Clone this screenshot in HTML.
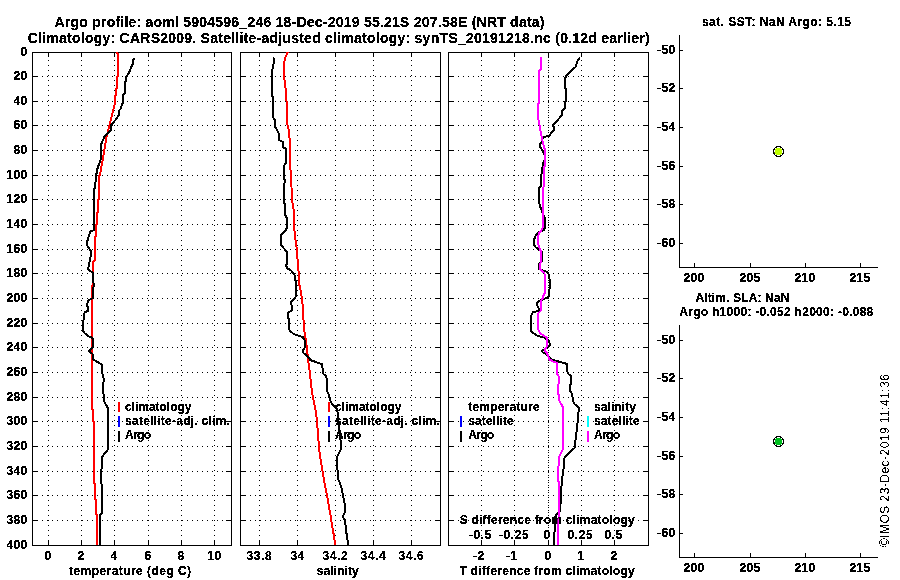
<!DOCTYPE html>
<html><head><meta charset="utf-8"><title>Argo profile</title>
<style>
html,body{margin:0;padding:0;background:#fff;}
body{width:900px;height:580px;overflow:hidden;}
svg{display:block;}
text{font-family:"Liberation Sans",sans-serif;font-weight:bold;font-size:12px;fill:#000;}
.t14{font-size:14px;}
.reg{font-weight:normal;}
.ax{stroke:#000;stroke-width:1;fill:none;shape-rendering:crispEdges;}
.gr{stroke:#000;stroke-width:1;fill:none;stroke-dasharray:1 4;shape-rendering:crispEdges;}
.cv{fill:none;stroke-width:2;shape-rendering:crispEdges;stroke-linejoin:round;}
</style></head><body>
<svg width="900" height="580" viewBox="0 0 900 580">
<rect width="900" height="580" fill="#fff"/>
<defs><filter id="th" x="0" y="0" width="900" height="580" filterUnits="userSpaceOnUse" color-interpolation-filters="sRGB"><feComponentTransfer><feFuncA type="discrete" tableValues="0 1 1"/></feComponentTransfer></filter><filter id="th2" x="0" y="0" width="900" height="580" filterUnits="userSpaceOnUse" color-interpolation-filters="sRGB"><feComponentTransfer><feFuncA type="discrete" tableValues="0 0 1 1"/></feComponentTransfer></filter></defs>
<g filter="url(#th)">
<text class="t14" x="54.5" y="26.5" textLength="490" lengthAdjust="spacing">Argo profile: aoml 5904596_246 18-Dec-2019 55.21S 207.58E (NRT data)</text>
<text class="t14" x="27.7" y="42.5" textLength="622" lengthAdjust="spacing">Climatology: CARS2009. Satellite-adjusted climatology: synTS_20191218.nc (0.12d earlier)</text>
<line class="gr" stroke-dashoffset="2" x1="48.5" y1="52" x2="48.5" y2="545"/>
<line class="gr" stroke-dashoffset="2" x1="81.5" y1="52" x2="81.5" y2="545"/>
<line class="gr" stroke-dashoffset="2" x1="114.5" y1="52" x2="114.5" y2="545"/>
<line class="gr" stroke-dashoffset="2" x1="148.5" y1="52" x2="148.5" y2="545"/>
<line class="gr" stroke-dashoffset="2" x1="181.5" y1="52" x2="181.5" y2="545"/>
<line class="gr" stroke-dashoffset="2" x1="214.5" y1="52" x2="214.5" y2="545"/>
<line class="gr" x1="32" y1="76.5" x2="231" y2="76.5"/>
<line class="gr" x1="32" y1="101.5" x2="231" y2="101.5"/>
<line class="gr" x1="32" y1="125.5" x2="231" y2="125.5"/>
<line class="gr" x1="32" y1="150.5" x2="231" y2="150.5"/>
<line class="gr" x1="32" y1="175.5" x2="231" y2="175.5"/>
<line class="gr" x1="32" y1="199.5" x2="231" y2="199.5"/>
<line class="gr" x1="32" y1="224.5" x2="231" y2="224.5"/>
<line class="gr" x1="32" y1="249.5" x2="231" y2="249.5"/>
<line class="gr" x1="32" y1="273.5" x2="231" y2="273.5"/>
<line class="gr" x1="32" y1="298.5" x2="231" y2="298.5"/>
<line class="gr" x1="32" y1="323.5" x2="231" y2="323.5"/>
<line class="gr" x1="32" y1="347.5" x2="231" y2="347.5"/>
<line class="gr" x1="32" y1="372.5" x2="231" y2="372.5"/>
<line class="gr" x1="32" y1="397.5" x2="231" y2="397.5"/>
<line class="gr" x1="32" y1="421.5" x2="231" y2="421.5"/>
<line class="gr" x1="32" y1="446.5" x2="231" y2="446.5"/>
<line class="gr" x1="32" y1="471.5" x2="231" y2="471.5"/>
<line class="gr" x1="32" y1="495.5" x2="231" y2="495.5"/>
<line class="gr" x1="32" y1="520.5" x2="231" y2="520.5"/>
<rect class="ax" x="32.5" y="52.5" width="199" height="493"/>
<line class="ax" x1="48.5" y1="545" x2="48.5" y2="540"/><line class="ax" x1="48.5" y1="52" x2="48.5" y2="57"/>
<line class="ax" x1="81.5" y1="545" x2="81.5" y2="540"/><line class="ax" x1="81.5" y1="52" x2="81.5" y2="57"/>
<line class="ax" x1="114.5" y1="545" x2="114.5" y2="540"/><line class="ax" x1="114.5" y1="52" x2="114.5" y2="57"/>
<line class="ax" x1="148.5" y1="545" x2="148.5" y2="540"/><line class="ax" x1="148.5" y1="52" x2="148.5" y2="57"/>
<line class="ax" x1="181.5" y1="545" x2="181.5" y2="540"/><line class="ax" x1="181.5" y1="52" x2="181.5" y2="57"/>
<line class="ax" x1="214.5" y1="545" x2="214.5" y2="540"/><line class="ax" x1="214.5" y1="52" x2="214.5" y2="57"/>
<line class="ax" x1="32" y1="76.5" x2="37" y2="76.5"/><line class="ax" x1="231" y1="76.5" x2="226" y2="76.5"/>
<line class="ax" x1="32" y1="101.5" x2="37" y2="101.5"/><line class="ax" x1="231" y1="101.5" x2="226" y2="101.5"/>
<line class="ax" x1="32" y1="125.5" x2="37" y2="125.5"/><line class="ax" x1="231" y1="125.5" x2="226" y2="125.5"/>
<line class="ax" x1="32" y1="150.5" x2="37" y2="150.5"/><line class="ax" x1="231" y1="150.5" x2="226" y2="150.5"/>
<line class="ax" x1="32" y1="175.5" x2="37" y2="175.5"/><line class="ax" x1="231" y1="175.5" x2="226" y2="175.5"/>
<line class="ax" x1="32" y1="199.5" x2="37" y2="199.5"/><line class="ax" x1="231" y1="199.5" x2="226" y2="199.5"/>
<line class="ax" x1="32" y1="224.5" x2="37" y2="224.5"/><line class="ax" x1="231" y1="224.5" x2="226" y2="224.5"/>
<line class="ax" x1="32" y1="249.5" x2="37" y2="249.5"/><line class="ax" x1="231" y1="249.5" x2="226" y2="249.5"/>
<line class="ax" x1="32" y1="273.5" x2="37" y2="273.5"/><line class="ax" x1="231" y1="273.5" x2="226" y2="273.5"/>
<line class="ax" x1="32" y1="298.5" x2="37" y2="298.5"/><line class="ax" x1="231" y1="298.5" x2="226" y2="298.5"/>
<line class="ax" x1="32" y1="323.5" x2="37" y2="323.5"/><line class="ax" x1="231" y1="323.5" x2="226" y2="323.5"/>
<line class="ax" x1="32" y1="347.5" x2="37" y2="347.5"/><line class="ax" x1="231" y1="347.5" x2="226" y2="347.5"/>
<line class="ax" x1="32" y1="372.5" x2="37" y2="372.5"/><line class="ax" x1="231" y1="372.5" x2="226" y2="372.5"/>
<line class="ax" x1="32" y1="397.5" x2="37" y2="397.5"/><line class="ax" x1="231" y1="397.5" x2="226" y2="397.5"/>
<line class="ax" x1="32" y1="421.5" x2="37" y2="421.5"/><line class="ax" x1="231" y1="421.5" x2="226" y2="421.5"/>
<line class="ax" x1="32" y1="446.5" x2="37" y2="446.5"/><line class="ax" x1="231" y1="446.5" x2="226" y2="446.5"/>
<line class="ax" x1="32" y1="471.5" x2="37" y2="471.5"/><line class="ax" x1="231" y1="471.5" x2="226" y2="471.5"/>
<line class="ax" x1="32" y1="495.5" x2="37" y2="495.5"/><line class="ax" x1="231" y1="495.5" x2="226" y2="495.5"/>
<line class="ax" x1="32" y1="520.5" x2="37" y2="520.5"/><line class="ax" x1="231" y1="520.5" x2="226" y2="520.5"/>
<text x="44.6" y="560" letter-spacing="0.33">0</text>
<text x="77.6" y="560" letter-spacing="0.33">2</text>
<text x="110.6" y="560" letter-spacing="0.33">4</text>
<text x="144.6" y="560" letter-spacing="0.33">6</text>
<text x="177.6" y="560" letter-spacing="0.33">8</text>
<text x="207.6" y="560" letter-spacing="0.33">10</text>
<text x="20.6" y="56" letter-spacing="0.33">0</text>
<text x="13.6" y="80" letter-spacing="0.33">20</text>
<text x="13.6" y="105" letter-spacing="0.33">40</text>
<text x="13.6" y="129" letter-spacing="0.33">60</text>
<text x="13.6" y="154" letter-spacing="0.33">80</text>
<text x="6.6" y="179" letter-spacing="0.33">100</text>
<text x="6.6" y="203" letter-spacing="0.33">120</text>
<text x="6.6" y="228" letter-spacing="0.33">140</text>
<text x="6.6" y="253" letter-spacing="0.33">160</text>
<text x="6.6" y="277" letter-spacing="0.33">180</text>
<text x="6.6" y="302" letter-spacing="0.33">200</text>
<text x="6.6" y="327" letter-spacing="0.33">220</text>
<text x="6.6" y="351" letter-spacing="0.33">240</text>
<text x="6.6" y="376" letter-spacing="0.33">260</text>
<text x="6.6" y="401" letter-spacing="0.33">280</text>
<text x="6.6" y="425" letter-spacing="0.33">300</text>
<text x="6.6" y="450" letter-spacing="0.33">320</text>
<text x="6.6" y="475" letter-spacing="0.33">340</text>
<text x="6.6" y="499" letter-spacing="0.33">360</text>
<text x="6.6" y="524" letter-spacing="0.33">380</text>
<text x="6.6" y="549" letter-spacing="0.33">400</text>
<polyline class="cv" stroke="#f00" points="117,52 118,55 118,76 117,77 117,88 116,89 116,95 115,96 115,103 113.3,110 109.3,125.5 106.5,137 104.3,150.5 100,175 99.3,176 99.3,199 98.2,200 98.2,212 97.1,213 97.1,224 96,225 96,236 94.5,237 94.5,261 93.2,262 93.2,284 92.4,285 92.4,300 92,301 92,409 93,410 93,421 94,422 94,483 95,484 95,499 96,500 96,514 97,515 97,545"/>
<polyline class="cv" stroke="#000" points="134.5,58 132.9,60 132.9,64 131.2,66.8 130,70.7 128.4,74 126.1,76.6 125.6,81.4 125,82.5 125,93.2 123.3,94.3 122.8,97 122.8,103.3 121.7,104.4 121.1,108.3 119.2,110.5 119,115 115.5,120 111,125 111,130 104.3,137 101,144.7 101,150 100.5,160 98.7,165 97,170 96.3,175 95,186 94,191 94,230 90.4,231.5 88.7,236 87.6,240 86.8,244 88,247 90.6,250.5 90.6,257 90,258 89.2,265 87.9,268.5 89,270 92.9,273 93.3,280 93.7,285 93.2,289 93,298 88.7,300 87,304 87,306 88,307 88,311 85.3,312 84,314 83.5,320 82.8,323 82.8,330 84.5,333 88.1,336 92.4,338 93,340 93,347 88.7,351 92.5,354 93,359.5 101.9,364.5 102,372.5 102.9,375 103.8,379 103.2,385 103.2,392 104,397 104.5,402 106,405 108,408 108,424 108.3,427 107.5,431 107.5,450 102,457 101.9,465 101,474 102,493 102,513 100,515 100,545"/>
<text x="69" y="574.5" textLength="122" lengthAdjust="spacing">temperature (deg C)</text>
<line class="gr" stroke-dashoffset="2" x1="259.5" y1="52" x2="259.5" y2="545"/>
<line class="gr" stroke-dashoffset="2" x1="297.5" y1="52" x2="297.5" y2="545"/>
<line class="gr" stroke-dashoffset="2" x1="335.5" y1="52" x2="335.5" y2="545"/>
<line class="gr" stroke-dashoffset="2" x1="373.5" y1="52" x2="373.5" y2="545"/>
<line class="gr" stroke-dashoffset="2" x1="411.5" y1="52" x2="411.5" y2="545"/>
<line class="gr" x1="240" y1="76.5" x2="440" y2="76.5"/>
<line class="gr" x1="240" y1="101.5" x2="440" y2="101.5"/>
<line class="gr" x1="240" y1="125.5" x2="440" y2="125.5"/>
<line class="gr" x1="240" y1="150.5" x2="440" y2="150.5"/>
<line class="gr" x1="240" y1="175.5" x2="440" y2="175.5"/>
<line class="gr" x1="240" y1="199.5" x2="440" y2="199.5"/>
<line class="gr" x1="240" y1="224.5" x2="440" y2="224.5"/>
<line class="gr" x1="240" y1="249.5" x2="440" y2="249.5"/>
<line class="gr" x1="240" y1="273.5" x2="440" y2="273.5"/>
<line class="gr" x1="240" y1="298.5" x2="440" y2="298.5"/>
<line class="gr" x1="240" y1="323.5" x2="440" y2="323.5"/>
<line class="gr" x1="240" y1="347.5" x2="440" y2="347.5"/>
<line class="gr" x1="240" y1="372.5" x2="440" y2="372.5"/>
<line class="gr" x1="240" y1="397.5" x2="440" y2="397.5"/>
<line class="gr" x1="240" y1="421.5" x2="440" y2="421.5"/>
<line class="gr" x1="240" y1="446.5" x2="440" y2="446.5"/>
<line class="gr" x1="240" y1="471.5" x2="440" y2="471.5"/>
<line class="gr" x1="240" y1="495.5" x2="440" y2="495.5"/>
<line class="gr" x1="240" y1="520.5" x2="440" y2="520.5"/>
<rect class="ax" x="240.5" y="52.5" width="200" height="493"/>
<line class="ax" x1="259.5" y1="545" x2="259.5" y2="540"/><line class="ax" x1="259.5" y1="52" x2="259.5" y2="57"/>
<line class="ax" x1="297.5" y1="545" x2="297.5" y2="540"/><line class="ax" x1="297.5" y1="52" x2="297.5" y2="57"/>
<line class="ax" x1="335.5" y1="545" x2="335.5" y2="540"/><line class="ax" x1="335.5" y1="52" x2="335.5" y2="57"/>
<line class="ax" x1="373.5" y1="545" x2="373.5" y2="540"/><line class="ax" x1="373.5" y1="52" x2="373.5" y2="57"/>
<line class="ax" x1="411.5" y1="545" x2="411.5" y2="540"/><line class="ax" x1="411.5" y1="52" x2="411.5" y2="57"/>
<line class="ax" x1="240" y1="76.5" x2="245" y2="76.5"/><line class="ax" x1="440" y1="76.5" x2="435" y2="76.5"/>
<line class="ax" x1="240" y1="101.5" x2="245" y2="101.5"/><line class="ax" x1="440" y1="101.5" x2="435" y2="101.5"/>
<line class="ax" x1="240" y1="125.5" x2="245" y2="125.5"/><line class="ax" x1="440" y1="125.5" x2="435" y2="125.5"/>
<line class="ax" x1="240" y1="150.5" x2="245" y2="150.5"/><line class="ax" x1="440" y1="150.5" x2="435" y2="150.5"/>
<line class="ax" x1="240" y1="175.5" x2="245" y2="175.5"/><line class="ax" x1="440" y1="175.5" x2="435" y2="175.5"/>
<line class="ax" x1="240" y1="199.5" x2="245" y2="199.5"/><line class="ax" x1="440" y1="199.5" x2="435" y2="199.5"/>
<line class="ax" x1="240" y1="224.5" x2="245" y2="224.5"/><line class="ax" x1="440" y1="224.5" x2="435" y2="224.5"/>
<line class="ax" x1="240" y1="249.5" x2="245" y2="249.5"/><line class="ax" x1="440" y1="249.5" x2="435" y2="249.5"/>
<line class="ax" x1="240" y1="273.5" x2="245" y2="273.5"/><line class="ax" x1="440" y1="273.5" x2="435" y2="273.5"/>
<line class="ax" x1="240" y1="298.5" x2="245" y2="298.5"/><line class="ax" x1="440" y1="298.5" x2="435" y2="298.5"/>
<line class="ax" x1="240" y1="323.5" x2="245" y2="323.5"/><line class="ax" x1="440" y1="323.5" x2="435" y2="323.5"/>
<line class="ax" x1="240" y1="347.5" x2="245" y2="347.5"/><line class="ax" x1="440" y1="347.5" x2="435" y2="347.5"/>
<line class="ax" x1="240" y1="372.5" x2="245" y2="372.5"/><line class="ax" x1="440" y1="372.5" x2="435" y2="372.5"/>
<line class="ax" x1="240" y1="397.5" x2="245" y2="397.5"/><line class="ax" x1="440" y1="397.5" x2="435" y2="397.5"/>
<line class="ax" x1="240" y1="421.5" x2="245" y2="421.5"/><line class="ax" x1="440" y1="421.5" x2="435" y2="421.5"/>
<line class="ax" x1="240" y1="446.5" x2="245" y2="446.5"/><line class="ax" x1="440" y1="446.5" x2="435" y2="446.5"/>
<line class="ax" x1="240" y1="471.5" x2="245" y2="471.5"/><line class="ax" x1="440" y1="471.5" x2="435" y2="471.5"/>
<line class="ax" x1="240" y1="495.5" x2="245" y2="495.5"/><line class="ax" x1="440" y1="495.5" x2="435" y2="495.5"/>
<line class="ax" x1="240" y1="520.5" x2="245" y2="520.5"/><line class="ax" x1="440" y1="520.5" x2="435" y2="520.5"/>
<text x="246.6" y="560" letter-spacing="0.6">33.8</text>
<text x="290.6" y="560" letter-spacing="0.33">34</text>
<text x="322.6" y="560" letter-spacing="0.6">34.2</text>
<text x="360.6" y="560" letter-spacing="0.6">34.4</text>
<text x="398.6" y="560" letter-spacing="0.6">34.6</text>
<polyline class="cv" stroke="#f00" points="287.8,52 285,58 284,64 284,76 285.5,88 286.5,101 287,105 287.5,125 288,126 289,132 290,144 290,165 291,175 292,199 293,206 294,212 294,225 295,236 296,243 297,250 298,268 299,274 299,285 300,286 301,293 302,298 303,310 304,329 305,335 306,341 307,348 308,359 309,366 310,373 311,384 312,391 313,398 314.5,405 315.5,410 317,420 318,436 319.5,452 321,462 322.5,471 324.5,483 327,495 329,507 331,518 332,525 333,530 334.5,540 335,545"/>
<polyline class="cv" stroke="#000" points="274,57.5 273.5,64 272,71 272,96 273,97 272.7,100 272.7,117 275,120 275.3,127 278,132 279,134 279,140 283,142 283,147 286,149 286,163 285,164 284,166 284,179 285,180 284,186 284,203 285,204 285,215 287,218 287,227 286,230 281,235 281,245 287,252 287,264 286,265 287,268 291.6,271 294.5,275 295,280 296,281 296,296 295,298 291,302 291.5,305 292,310 288,313 288,318 289,319 289,329 290,331 293.7,334 299.3,336 302.7,337 304.5,340 305,342 305,347 302.6,351 303.5,353 309.3,358 310,360 321.7,364 322.5,368 323.5,374 326,376 327,380 327,391 329,395 330,400 332,404 337.3,409 338.5,425 339.5,431 340.5,440 340.5,450 339,453 337,457 336.6,460 337.5,470 338,479 340,483 342,490 343,496 344.5,503 344.5,513 343,516 343.5,518 345,520 346,530 347.5,540 348,545"/>
<text x="316.8" y="574.5" textLength="42" lengthAdjust="spacing">salinity</text>
<line class="gr" stroke-dashoffset="2" x1="481.5" y1="52" x2="481.5" y2="545"/>
<line class="gr" stroke-dashoffset="2" x1="514.5" y1="52" x2="514.5" y2="545"/>
<line class="gr" stroke-dashoffset="2" x1="548.5" y1="52" x2="548.5" y2="545"/>
<line class="gr" stroke-dashoffset="2" x1="581.5" y1="52" x2="581.5" y2="545"/>
<line class="gr" stroke-dashoffset="2" x1="614.5" y1="52" x2="614.5" y2="545"/>
<line class="gr" x1="448" y1="76.5" x2="648" y2="76.5"/>
<line class="gr" x1="448" y1="101.5" x2="648" y2="101.5"/>
<line class="gr" x1="448" y1="125.5" x2="648" y2="125.5"/>
<line class="gr" x1="448" y1="150.5" x2="648" y2="150.5"/>
<line class="gr" x1="448" y1="175.5" x2="648" y2="175.5"/>
<line class="gr" x1="448" y1="199.5" x2="648" y2="199.5"/>
<line class="gr" x1="448" y1="224.5" x2="648" y2="224.5"/>
<line class="gr" x1="448" y1="249.5" x2="648" y2="249.5"/>
<line class="gr" x1="448" y1="273.5" x2="648" y2="273.5"/>
<line class="gr" x1="448" y1="298.5" x2="648" y2="298.5"/>
<line class="gr" x1="448" y1="323.5" x2="648" y2="323.5"/>
<line class="gr" x1="448" y1="347.5" x2="648" y2="347.5"/>
<line class="gr" x1="448" y1="372.5" x2="648" y2="372.5"/>
<line class="gr" x1="448" y1="397.5" x2="648" y2="397.5"/>
<line class="gr" x1="448" y1="421.5" x2="648" y2="421.5"/>
<line class="gr" x1="448" y1="446.5" x2="648" y2="446.5"/>
<line class="gr" x1="448" y1="471.5" x2="648" y2="471.5"/>
<line class="gr" x1="448" y1="495.5" x2="648" y2="495.5"/>
<line class="gr" x1="448" y1="520.5" x2="648" y2="520.5"/>
<rect class="ax" x="448.5" y="52.5" width="200" height="493"/>
<line class="ax" x1="481.5" y1="545" x2="481.5" y2="540"/><line class="ax" x1="481.5" y1="52" x2="481.5" y2="57"/>
<line class="ax" x1="514.5" y1="545" x2="514.5" y2="540"/><line class="ax" x1="514.5" y1="52" x2="514.5" y2="57"/>
<line class="ax" x1="548.5" y1="545" x2="548.5" y2="540"/><line class="ax" x1="548.5" y1="52" x2="548.5" y2="57"/>
<line class="ax" x1="581.5" y1="545" x2="581.5" y2="540"/><line class="ax" x1="581.5" y1="52" x2="581.5" y2="57"/>
<line class="ax" x1="614.5" y1="545" x2="614.5" y2="540"/><line class="ax" x1="614.5" y1="52" x2="614.5" y2="57"/>
<line class="ax" x1="448" y1="76.5" x2="453" y2="76.5"/><line class="ax" x1="648" y1="76.5" x2="643" y2="76.5"/>
<line class="ax" x1="448" y1="101.5" x2="453" y2="101.5"/><line class="ax" x1="648" y1="101.5" x2="643" y2="101.5"/>
<line class="ax" x1="448" y1="125.5" x2="453" y2="125.5"/><line class="ax" x1="648" y1="125.5" x2="643" y2="125.5"/>
<line class="ax" x1="448" y1="150.5" x2="453" y2="150.5"/><line class="ax" x1="648" y1="150.5" x2="643" y2="150.5"/>
<line class="ax" x1="448" y1="175.5" x2="453" y2="175.5"/><line class="ax" x1="648" y1="175.5" x2="643" y2="175.5"/>
<line class="ax" x1="448" y1="199.5" x2="453" y2="199.5"/><line class="ax" x1="648" y1="199.5" x2="643" y2="199.5"/>
<line class="ax" x1="448" y1="224.5" x2="453" y2="224.5"/><line class="ax" x1="648" y1="224.5" x2="643" y2="224.5"/>
<line class="ax" x1="448" y1="249.5" x2="453" y2="249.5"/><line class="ax" x1="648" y1="249.5" x2="643" y2="249.5"/>
<line class="ax" x1="448" y1="273.5" x2="453" y2="273.5"/><line class="ax" x1="648" y1="273.5" x2="643" y2="273.5"/>
<line class="ax" x1="448" y1="298.5" x2="453" y2="298.5"/><line class="ax" x1="648" y1="298.5" x2="643" y2="298.5"/>
<line class="ax" x1="448" y1="323.5" x2="453" y2="323.5"/><line class="ax" x1="648" y1="323.5" x2="643" y2="323.5"/>
<line class="ax" x1="448" y1="347.5" x2="453" y2="347.5"/><line class="ax" x1="648" y1="347.5" x2="643" y2="347.5"/>
<line class="ax" x1="448" y1="372.5" x2="453" y2="372.5"/><line class="ax" x1="648" y1="372.5" x2="643" y2="372.5"/>
<line class="ax" x1="448" y1="397.5" x2="453" y2="397.5"/><line class="ax" x1="648" y1="397.5" x2="643" y2="397.5"/>
<line class="ax" x1="448" y1="421.5" x2="453" y2="421.5"/><line class="ax" x1="648" y1="421.5" x2="643" y2="421.5"/>
<line class="ax" x1="448" y1="446.5" x2="453" y2="446.5"/><line class="ax" x1="648" y1="446.5" x2="643" y2="446.5"/>
<line class="ax" x1="448" y1="471.5" x2="453" y2="471.5"/><line class="ax" x1="648" y1="471.5" x2="643" y2="471.5"/>
<line class="ax" x1="448" y1="495.5" x2="453" y2="495.5"/><line class="ax" x1="648" y1="495.5" x2="643" y2="495.5"/>
<line class="ax" x1="448" y1="520.5" x2="453" y2="520.5"/><line class="ax" x1="648" y1="520.5" x2="643" y2="520.5"/>
<rect x="473" y="556" width="4" height="1" fill="#000"/><text x="477.6" y="560" letter-spacing="0.33">2</text>
<rect x="506" y="556" width="4" height="1" fill="#000"/><text x="510.6" y="560" letter-spacing="0.33">1</text>
<text x="544.6" y="560" letter-spacing="0.33">0</text>
<text x="577.6" y="560" letter-spacing="0.33">1</text>
<text x="610.6" y="560" letter-spacing="0.33">2</text>
<line x1="548.5" y1="52" x2="548.5" y2="545" stroke="#000" stroke-width="1" stroke-dasharray="1 1.5" shape-rendering="crispEdges"/>
<polyline class="cv" stroke="#000" points="579.8,57.5 577.5,61 575.5,67 571.2,71 566,76 565,79 565,88 566,89 566,101 565,102 565,108 562,111 562,115 557.7,120 552.7,125 554,127 554,130 548.8,136 543,137 541.5,143 540,144 540,147 541.5,149 543.5,153 544.8,155 544.8,160 543.3,163 542.5,167 541.6,172 541,186 539,188 538.8,201 540.3,207 541.5,210 544.5,217 545,222 545,227 544,230 538.8,232 535.5,236 533.8,240 533.8,245 536.5,248 541,251 542.5,253 542,261 540,263 539,264 539,269 542,270 547,272 548.5,274 549.5,279 549.5,289 549,296 546.6,298 541,300 537.6,302 537,305 538.5,308 538.5,311 533,312 531.5,315 531,323 530.5,330 532,332 537.6,336 543,337 548.5,340 549.5,343 549.5,346 547,348 544.8,349 541.5,351 543,352.5 546,354 550,358 552.7,360 560.5,362 567,364 567.5,372 568.5,374 571,376 571,384 570,385 570,391 571.5,393 572.5,397 573.5,402 574.5,404 579,408 578.5,412 577.5,423 576.5,432 575.5,440 574.5,448 570,452 565.6,456 564,459 564,465 563.5,469 563,471 562.5,476 562,478 561.5,486 561,488 560.5,505 560,511 556,515 555,518 555,525 553.7,545"/>
<polyline class="cv" stroke="#f0f" points="541,57 541,69 539,71 539,103 538,104 538.1,110 538.5,120 540,128 541,133 542.5,141 544,147 545,150 545,166 544,167 544.4,170 544.4,186 543.5,187 542.5,193 542.5,205 543.5,215 543,227 541.5,230 539.3,233 538,236 538.5,245 540,249 541,252 541,262 540,264 540,269 542,271 544.5,273 545,290 545,293 544,294 542.7,298 540.5,302 540.5,311 538.5,313 538,324 538.5,330 540,333 543.8,336 546.5,337 547,340 547,346 546,348 544.5,350 546,352 548,355 549,359 552,361 557.2,363 557.2,374 558.5,376 558.5,384 558,386 558,393 559,396 559.5,401 561,404 563,407 563,449 561,453 559,457 559,465 558,467 558,481 559,482 559,512 558,525 558,545"/>
<rect x="469" y="535" width="4" height="1" fill="#000"/><text x="473.6" y="539" letter-spacing="0.6">0.5</text>
<rect x="499" y="535" width="4" height="1" fill="#000"/><text x="503.6" y="539" letter-spacing="0.6">0.25</text>
<text x="543.6" y="539" letter-spacing="0.33">0</text>
<text x="567.6" y="539" letter-spacing="0.6">0.25</text>
<text x="604.6" y="539" letter-spacing="0.6">0.5</text>
<text x="459.7" y="523.5" textLength="175" lengthAdjust="spacing">S difference from climatology</text>
<text x="459.7" y="574.5" textLength="175" lengthAdjust="spacing">T difference from climatology</text>
<line x1="119" y1="402" x2="119" y2="411.5" stroke="#f00" stroke-width="2" shape-rendering="crispEdges"/>
<text x="125" y="411" textLength="66.5" lengthAdjust="spacing">climatology</text>
<line x1="119" y1="416" x2="119" y2="427" stroke="#00f" stroke-width="2" shape-rendering="crispEdges"/>
<text x="125" y="425" textLength="105" lengthAdjust="spacing">satellite-adj. clim.</text>
<line x1="119" y1="431" x2="119" y2="442" stroke="#000" stroke-width="2" shape-rendering="crispEdges"/>
<text x="125" y="439" textLength="26" lengthAdjust="spacing">Argo</text>
<line x1="329" y1="402" x2="329" y2="411.5" stroke="#f00" stroke-width="2" shape-rendering="crispEdges"/>
<text x="335" y="411" textLength="66.5" lengthAdjust="spacing">climatology</text>
<line x1="329" y1="416" x2="329" y2="427" stroke="#00f" stroke-width="2" shape-rendering="crispEdges"/>
<text x="335" y="425" textLength="105" lengthAdjust="spacing">satellite-adj. clim.</text>
<line x1="329" y1="431" x2="329" y2="442" stroke="#000" stroke-width="2" shape-rendering="crispEdges"/>
<text x="335" y="439" textLength="26" lengthAdjust="spacing">Argo</text>
<text x="468.2" y="411" textLength="71.5" lengthAdjust="spacing">temperature</text>
<line x1="461" y1="416" x2="461" y2="427" stroke="#00f" stroke-width="2" shape-rendering="crispEdges"/>
<text x="468.2" y="425" textLength="45.6" lengthAdjust="spacing">satellite</text>
<line x1="461" y1="431" x2="461" y2="442" stroke="#000" stroke-width="2" shape-rendering="crispEdges"/>
<text x="468.2" y="439" textLength="26" lengthAdjust="spacing">Argo</text>
<text x="594" y="411" textLength="42" lengthAdjust="spacing">salinity</text>
<line x1="588" y1="416" x2="588" y2="427" stroke="#0ff" stroke-width="2" shape-rendering="crispEdges"/>
<text x="594" y="425" textLength="45.6" lengthAdjust="spacing">satellite</text>
<line x1="588" y1="431" x2="588" y2="442" stroke="#f0f" stroke-width="2" shape-rendering="crispEdges"/>
<text x="594" y="439" textLength="26" lengthAdjust="spacing">Argo</text>
<polyline class="ax" points="679.5,35 679.5,267.5 878,267.5"/>
<line class="ax" x1="679" y1="50.5" x2="683" y2="50.5"/>
<rect x="657" y="50" width="4" height="1" fill="#000"/><text x="661.6" y="54" letter-spacing="0.33">50</text>
<line class="ax" x1="679" y1="88.5" x2="683" y2="88.5"/>
<rect x="657" y="88" width="4" height="1" fill="#000"/><text x="661.6" y="92" letter-spacing="0.33">52</text>
<line class="ax" x1="679" y1="127.5" x2="683" y2="127.5"/>
<rect x="657" y="127" width="4" height="1" fill="#000"/><text x="661.6" y="131" letter-spacing="0.33">54</text>
<line class="ax" x1="679" y1="166.5" x2="683" y2="166.5"/>
<rect x="657" y="166" width="4" height="1" fill="#000"/><text x="661.6" y="170" letter-spacing="0.33">56</text>
<line class="ax" x1="679" y1="204.5" x2="683" y2="204.5"/>
<rect x="657" y="204" width="4" height="1" fill="#000"/><text x="661.6" y="208" letter-spacing="0.33">58</text>
<line class="ax" x1="679" y1="243.5" x2="683" y2="243.5"/>
<rect x="657" y="243" width="4" height="1" fill="#000"/><text x="661.6" y="247" letter-spacing="0.33">60</text>
<line class="ax" x1="694.5" y1="267" x2="694.5" y2="263"/>
<text x="683.6" y="282" letter-spacing="0.33">200</text>
<line class="ax" x1="750.5" y1="267" x2="750.5" y2="263"/>
<text x="739.6" y="282" letter-spacing="0.33">205</text>
<line class="ax" x1="805.5" y1="267" x2="805.5" y2="263"/>
<text x="794.6" y="282" letter-spacing="0.33">210</text>
<line class="ax" x1="860.5" y1="267" x2="860.5" y2="263"/>
<text x="849.6" y="282" letter-spacing="0.33">215</text>
<polyline class="ax" points="679.5,325 679.5,557.5 878,557.5"/>
<line class="ax" x1="679" y1="340.5" x2="683" y2="340.5"/>
<rect x="657" y="340" width="4" height="1" fill="#000"/><text x="661.6" y="344" letter-spacing="0.33">50</text>
<line class="ax" x1="679" y1="378.5" x2="683" y2="378.5"/>
<rect x="657" y="378" width="4" height="1" fill="#000"/><text x="661.6" y="382" letter-spacing="0.33">52</text>
<line class="ax" x1="679" y1="417.5" x2="683" y2="417.5"/>
<rect x="657" y="417" width="4" height="1" fill="#000"/><text x="661.6" y="421" letter-spacing="0.33">54</text>
<line class="ax" x1="679" y1="456.5" x2="683" y2="456.5"/>
<rect x="657" y="456" width="4" height="1" fill="#000"/><text x="661.6" y="460" letter-spacing="0.33">56</text>
<line class="ax" x1="679" y1="494.5" x2="683" y2="494.5"/>
<rect x="657" y="494" width="4" height="1" fill="#000"/><text x="661.6" y="498" letter-spacing="0.33">58</text>
<line class="ax" x1="679" y1="533.5" x2="683" y2="533.5"/>
<rect x="657" y="533" width="4" height="1" fill="#000"/><text x="661.6" y="537" letter-spacing="0.33">60</text>
<line class="ax" x1="694.5" y1="557" x2="694.5" y2="553"/>
<text x="683.6" y="572" letter-spacing="0.33">200</text>
<line class="ax" x1="750.5" y1="557" x2="750.5" y2="553"/>
<text x="739.6" y="572" letter-spacing="0.33">205</text>
<line class="ax" x1="805.5" y1="557" x2="805.5" y2="553"/>
<text x="794.6" y="572" letter-spacing="0.33">210</text>
<line class="ax" x1="860.5" y1="557" x2="860.5" y2="553"/>
<text x="849.6" y="572" letter-spacing="0.33">215</text>
<circle cx="778.5" cy="151.5" r="3.8" fill="#bfff00"/><circle cx="778.5" cy="151.5" r="5" fill="none" stroke="#000" stroke-width="1"/>
<circle cx="778.5" cy="441.5" r="3.8" fill="#00bf20"/><circle cx="778.5" cy="441.5" r="5" fill="none" stroke="#000" stroke-width="1"/>
<text x="702" y="25.5" textLength="149" lengthAdjust="spacing">sat. SST: NaN Argo: 5.15</text>
<text x="695.4" y="301.5" textLength="94" lengthAdjust="spacing">Altim. SLA: NaN</text>
<text x="679.3" y="315.5" textLength="194" lengthAdjust="spacing">Argo h1000: -0.052 h2000: -0.088</text>
</g>
<g filter="url(#th2)"><text class="reg" transform="translate(889,547) rotate(-90)" textLength="173" lengthAdjust="spacing">©IMOS 23-Dec-2019 11:41:36</text></g>
</svg>
</body></html>
